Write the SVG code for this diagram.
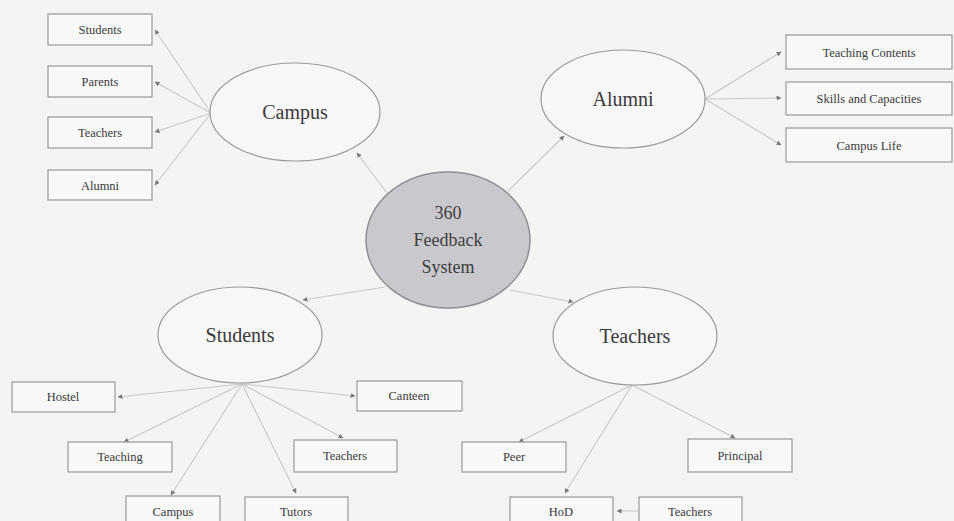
<svg xmlns="http://www.w3.org/2000/svg" width="954" height="521" viewBox="0 0 954 521">
<defs>
<marker id="ah" markerWidth="5" markerHeight="5" refX="4.5" refY="2.5" orient="auto" markerUnits="userSpaceOnUse">
<path d="M0,0 L5,2.5 L0,5 z" fill="#7a7a7a"/>
</marker>
<style>
.bg{fill:#f4f4f3}
.ell{fill:#f7f7f7;stroke:#9a9a9a;stroke-width:1.2}
.hub{fill:#c9c8cc;stroke:#8f8f94;stroke-width:1.5}
.box{fill:#f8f8f8;stroke:#999;stroke-width:1.2}
.lbl{font-family:"Liberation Serif",serif;fill:#3a3a3a;text-anchor:middle}
.big{font-size:20px}
.sm{font-size:12.5px}
.hubt{font-size:18px;fill:#3f3f3f}
.c{stroke:#c8c8c8;stroke-width:1.1;fill:none;marker-end:url(#ah)}
</style>
</defs>
<rect class="bg" x="0" y="0" width="954" height="521"/>
<g id="connectors">
<line class="c" x1="387" y1="193" x2="357" y2="153"/>
<line class="c" x1="508" y1="191" x2="564" y2="136"/>
<line class="c" x1="385" y1="287" x2="303" y2="300"/>
<line class="c" x1="510" y1="290" x2="573" y2="302"/>
<line class="c" x1="211" y1="113" x2="155" y2="30"/>
<line class="c" x1="211" y1="113" x2="155" y2="82"/>
<line class="c" x1="211" y1="113" x2="155" y2="132"/>
<line class="c" x1="211" y1="113" x2="155" y2="185"/>
<line class="c" x1="705" y1="99" x2="781" y2="52"/>
<line class="c" x1="705" y1="99" x2="781" y2="98"/>
<line class="c" x1="705" y1="99" x2="781" y2="145"/>
<line class="c" x1="242" y1="384" x2="118" y2="397"/>
<line class="c" x1="242" y1="384" x2="355" y2="396"/>
<line class="c" x1="242" y1="384" x2="124" y2="442"/>
<line class="c" x1="242" y1="384" x2="171" y2="495"/>
<line class="c" x1="242" y1="384" x2="296" y2="493"/>
<line class="c" x1="242" y1="384" x2="343" y2="438"/>
<line class="c" x1="632" y1="385" x2="519" y2="442"/>
<line class="c" x1="632" y1="385" x2="735" y2="438"/>
<line class="c" x1="632" y1="385" x2="565" y2="493"/>
<line class="c" x1="638" y1="511" x2="617" y2="511"/>
</g>
<g id="hub">
<ellipse class="hub" cx="448" cy="240" rx="82" ry="68"/>
<text class="lbl hubt" x="448" y="219">360</text>
<text class="lbl hubt" x="448" y="246">Feedback</text>
<text class="lbl hubt" x="448" y="273">System</text>
</g>
<g id="campus">
<ellipse class="ell" cx="295" cy="112" rx="85" ry="49"/>
<text class="lbl big" x="295" y="119">Campus</text>
</g>
<g id="alumni">
<ellipse class="ell" cx="623" cy="99" rx="82" ry="49"/>
<text class="lbl big" x="623" y="106">Alumni</text>
</g>
<g id="students">
<ellipse class="ell" cx="240" cy="335" rx="82" ry="48"/>
<text class="lbl big" x="240" y="342">Students</text>
</g>
<g id="teachers">
<ellipse class="ell" cx="635" cy="336" rx="82" ry="49"/>
<text class="lbl big" x="635" y="343">Teachers</text>
</g>
<g id="c-students"><rect class="box" x="48" y="14" width="104" height="31"/><text class="lbl sm" x="100" y="34">Students</text></g>
<g id="c-parents"><rect class="box" x="48" y="66" width="104" height="31"/><text class="lbl sm" x="100" y="86">Parents</text></g>
<g id="c-teachers"><rect class="box" x="48" y="117" width="104" height="31"/><text class="lbl sm" x="100" y="137">Teachers</text></g>
<g id="c-alumni"><rect class="box" x="48" y="170" width="104" height="30"/><text class="lbl sm" x="100" y="190">Alumni</text></g>
<g id="a-teaching"><rect class="box" x="786" y="35" width="166" height="34"/><text class="lbl sm" x="869" y="57">Teaching Contents</text></g>
<g id="a-skills"><rect class="box" x="786" y="82" width="166" height="33"/><text class="lbl sm" x="869" y="103">Skills and Capacities</text></g>
<g id="a-campuslife"><rect class="box" x="786" y="128" width="166" height="34"/><text class="lbl sm" x="869" y="150">Campus Life</text></g>
<g id="s-hostel"><rect class="box" x="12" y="382" width="103" height="30"/><text class="lbl sm" x="63" y="401">Hostel</text></g>
<g id="s-canteen"><rect class="box" x="357" y="381" width="105" height="30"/><text class="lbl sm" x="409" y="400">Canteen</text></g>
<g id="s-teaching"><rect class="box" x="68" y="442" width="104" height="30"/><text class="lbl sm" x="120" y="461">Teaching</text></g>
<g id="s-teachers"><rect class="box" x="294" y="440" width="103" height="32"/><text class="lbl sm" x="345" y="460">Teachers</text></g>
<g id="s-campus"><rect class="box" x="126" y="496" width="94" height="30"/><text class="lbl sm" x="173" y="516">Campus</text></g>
<g id="s-tutors"><rect class="box" x="245" y="497" width="103" height="30"/><text class="lbl sm" x="296" y="516">Tutors</text></g>
<g id="t-peer"><rect class="box" x="462" y="442" width="104" height="30"/><text class="lbl sm" x="514" y="461">Peer</text></g>
<g id="t-principal"><rect class="box" x="688" y="439" width="104" height="33"/><text class="lbl sm" x="740" y="460">Principal</text></g>
<g id="t-hod"><rect class="box" x="510" y="497" width="103" height="30"/><text class="lbl sm" x="561" y="516">HoD</text></g>
<g id="t-teachers"><rect class="box" x="639" y="497" width="103" height="30"/><text class="lbl sm" x="690" y="516">Teachers</text></g>
</svg>
